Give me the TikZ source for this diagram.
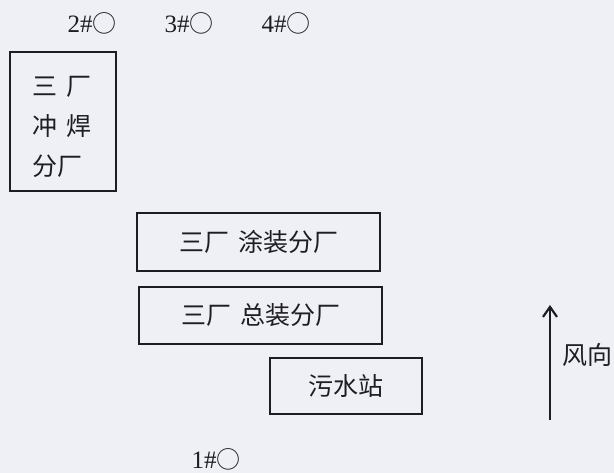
\documentclass[tikz,border=0pt]{standalone}
\usepackage{fontspec}
\setmainfont{Liberation Serif}
\newfontfamily\cjk{Noto Sans CJK SC}
\usetikzlibrary{arrows.meta}
\definecolor{bgc}{HTML}{EFEFF6}
\definecolor{ink}{HTML}{1E1E22}
\newcommand{\circmark}{{\cjk\fontsize{24}{26}\selectfont ○}}
\begin{document}
\begin{tikzpicture}[x=1pt,y=-1pt,
  box/.style={draw=ink,line width=2.4pt,inner sep=0pt},
  lbl/.style={font=\cjk\fontsize{25}{40}\selectfont,text=ink,inner sep=0pt},
  num/.style={font=\fontsize{25}{28}\selectfont,text=ink,inner sep=0pt}]
\fill[bgc] (0,0) rectangle (614,473);
\useasboundingbox (0,0) rectangle (614,473);
% boxes
\node[box,minimum width=106pt,minimum height=139pt] (weld) at (63,121.5) {};
\node[lbl,align=left] (weldtxt) at (62,127) {三\hspace{9pt}厂\\冲\hspace{9pt}焊\\分厂};
\node[box,minimum width=243pt,minimum height=58pt,lbl] (paint) at (258.5,242) {三厂\hspace{9pt}涂装分厂};
\node[box,minimum width=243pt,minimum height=57pt,lbl] (assy) at (260.5,315.5) {三厂\hspace{9pt}总装分厂};
\node[box,minimum width=152pt,minimum height=56pt,lbl] (sewage) at (346,386) {污水站};
% monitoring points
\node[num] (p2) at (92,23) {2\#\circmark};
\node[num] (p3) at (189,23) {3\#\circmark};
\node[num] (p4) at (286,23) {4\#\circmark};
\node[num] (p1) at (216,459) {1\#\circmark};
% wind direction
\coordinate (wb) at (550,420);
\coordinate (wt) at (550,305);
\draw[draw=ink,line width=2.4pt,-{Straight Barb[length=10pt,width=14pt,line width=2.2pt]}] (wb) -- (wt);
\node[lbl] (wind) at (587,355) {风向};
\end{tikzpicture}
\end{document}
